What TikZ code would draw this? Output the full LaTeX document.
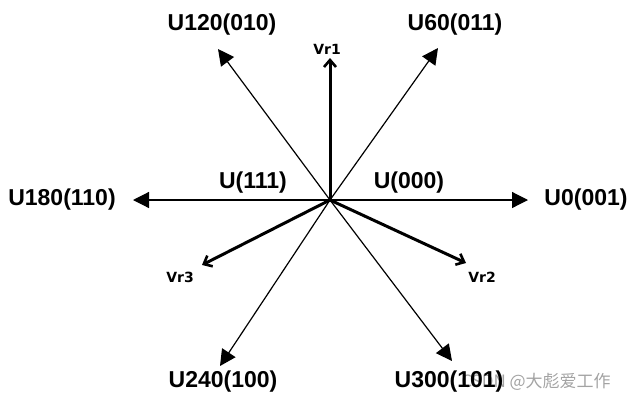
\documentclass[tikz,border=0pt]{standalone}
\usepackage{fontspec}
\setmainfont{Liberation Sans}
\newfontfamily\vrfont{DejaVu Sans}
\newfontfamily\cjk{Noto Sans CJK SC}
\usetikzlibrary{arrows.meta}
\begin{document}
\begin{tikzpicture}[x=1pt,y=-1pt,
  vec/.style={line width=1.2pt,-{Triangle[length=16pt,width=16pt]}},
  ref/.style={line width=3pt,-{Straight Barb[length=7pt,width=12pt,line width=2.6pt]}},
  big/.style={font=\fontsize{23}{23}\selectfont\bfseries,inner sep=0pt},
  small/.style={font=\vrfont\fontsize{14}{14}\selectfont\bfseries,inner sep=0pt},
  wmark/.style={font=\cjk\fontsize{17}{17}\selectfont,text=black!45,text opacity=0.8,inner sep=0pt}]
\useasboundingbox (0,0) rectangle (636,402);
\coordinate (O) at (330,200);
\coordinate (t0) at (528,200);
\coordinate (t60) at (438,48);
\coordinate (t120) at (218,49);
\coordinate (t180) at (133,200);
\coordinate (t240) at (220,366);
\coordinate (t300) at (452,361);
\coordinate (r1) at (330,58);
\coordinate (r2) at (466,263);
\coordinate (r3) at (202,265);
\draw[vec] (O) -- (t0);
\draw[vec] (O) -- (t60);
\draw[vec] (O) -- (t120);
\draw[vec] (O) -- (t180);
\draw[vec] (O) -- (t240);
\draw[vec] (O) -- (t300);
\draw[ref] (O) -- (r1);
\draw[ref] (O) -- (r2);
\draw[ref] (O) -- (r3);
\node[wmark] (wm) at (536,382) {CSDN @大彪爱工作};
\node[big] (l0) at (586,200) {U0(001)};
\node[big] (l60) at (455,25) {U60(011)};
\node[big] (l120) at (222,25) {U120(010)};
\node[big] (l180) at (62,200) {U180(110)};
\node[big] (l240) at (223,382) {U240(100)};
\node[big] (l300) at (449,382) {U300(101)};
\node[big] (z1) at (253,183) {U(111)};
\node[big] (z0) at (409,183) {U(000)};
\node[small] (v1) at (327,49) {Vr1};
\node[small] (v2) at (482,277) {Vr2};
\node[small] (v3) at (180,277) {Vr3};
\end{tikzpicture}
\end{document}
